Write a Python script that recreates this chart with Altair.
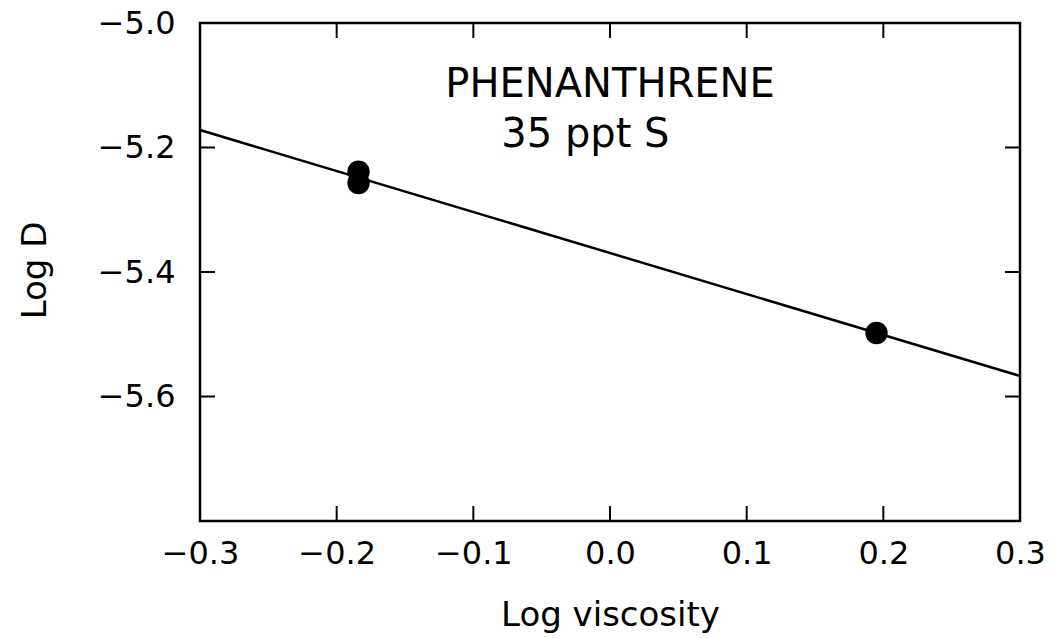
import altair as alt
import pandas as pd

# Data
pt_x = [-0.184, -0.184, 0.195]
pt_y = [-5.239, -5.257, -5.498]
fit_x = [-0.3, 0.3]
fit_y = [-5.172, -5.567]

x_ticks = [-0.3, -0.2, -0.1, 0.0, 0.1, 0.2, 0.3]
y_ticks = [-5.0, -5.2, -5.4, -5.6]
inner_x_ticks = [-0.2, -0.1, 0.0, 0.1, 0.2]
inner_y_ticks = [-5.2, -5.4, -5.6]

labels = ["PHENANTHRENE", "35 ppt S"]
label_x = [0.0, -0.018]
label_y = [-5.119, -5.199]

W, H = 820, 498
TL = 15
FONT = "DejaVu Sans"

xs = alt.Scale(domain=[-0.3, 0.3], nice=False, zero=False)
ys = alt.Scale(domain=[-5.8, -5.0], nice=False, zero=False)

x_axis = alt.Axis(values=x_ticks, format=".1f", ticks=False, domain=False, grid=False,
                  labelFont=FONT, labelFontSize=32, labelColor="black", labelPadding=17,
                  labelFlush=False, labelOverlap=False,
                  title="Log viscosity", titleFont=FONT, titleFontSize=34,
                  titleFontWeight="normal", titleColor="black",
                  titleX=W / 2, titleY=104, titleAlign="center", titleBaseline="alphabetic")
y_axis = alt.Axis(values=y_ticks, format=".1f", ticks=False, domain=False, grid=False,
                  labelFont=FONT, labelFontSize=32, labelColor="black", labelPadding=25,
                  labelFlush=False, labelOverlap=False,
                  title="Log D", titleFont=FONT, titleFontSize=34,
                  titleFontWeight="normal", titleColor="black", titleAngle=270,
                  titleX=-155, titleY=H / 2 - 2, titleAlign="center", titleBaseline="alphabetic")

fit_df = pd.DataFrame({"x": fit_x, "y": fit_y})
pts_df = pd.DataFrame({"x": pt_x, "y": pt_y})
lab_df = pd.DataFrame({"x": label_x, "y": label_y, "t": labels})
xt_df = pd.DataFrame({"x": inner_x_ticks})
yt_df = pd.DataFrame({"y": inner_y_ticks})

line = alt.Chart(fit_df).mark_line(color="black", strokeWidth=2.5).encode(
    x=alt.X("x:Q", scale=xs, axis=x_axis),
    y=alt.Y("y:Q", scale=ys, axis=y_axis),
)
points = alt.Chart(pts_df).mark_circle(color="black", size=500, opacity=1).encode(
    x=alt.X("x:Q", scale=xs),
    y=alt.Y("y:Q", scale=ys),
)
text = alt.Chart(lab_df).mark_text(font=FONT, fontSize=40, color="black",
                                   align="center", baseline="alphabetic").encode(
    x=alt.X("x:Q", scale=xs),
    y=alt.Y("y:Q", scale=ys),
    text="t:N",
)
bottom_ticks = alt.Chart(xt_df).mark_rule(color="black", strokeWidth=2).encode(
    x=alt.X("x:Q", scale=xs), y=alt.value(H), y2=alt.value(H - TL))
top_ticks = alt.Chart(xt_df).mark_rule(color="black", strokeWidth=2).encode(
    x=alt.X("x:Q", scale=xs), y=alt.value(0), y2=alt.value(TL))
left_ticks = alt.Chart(yt_df).mark_rule(color="black", strokeWidth=2).encode(
    y=alt.Y("y:Q", scale=ys), x=alt.value(0), x2=alt.value(TL))
right_ticks = alt.Chart(yt_df).mark_rule(color="black", strokeWidth=2).encode(
    y=alt.Y("y:Q", scale=ys), x=alt.value(W), x2=alt.value(W - TL))

chart = alt.layer(line, points, text, bottom_ticks, top_ticks, left_ticks, right_ticks).properties(
    width=W, height=H,
    autosize=alt.AutoSizeParams(type="none"),
    padding={"left": 200, "top": 23, "right": 35, "bottom": 117},
    background="white",
).configure_view(stroke="black", strokeWidth=2.5)

chart.save("out.html", embed_options={"renderer": "svg", "actions": False})
